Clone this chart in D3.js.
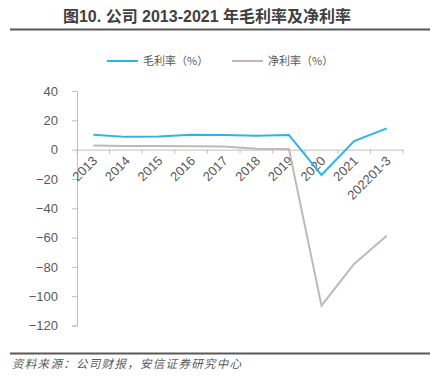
<!DOCTYPE html>
<html>
<head>
<meta charset="utf-8">
<script src="https://cdn.jsdelivr.net/npm/d3@7"></script>
<style>
  body { margin: 0; background: #fff; }
  svg { display: block; }
</style>
</head>
<body>
<div></div>
<script>
// chart data
let categories = ["2013", "2014", "2015", "2016", "2017", "2018", "2019", "2020", "2021", "202201-3"];
let grossMargin = [10.2, 8.7, 9.0, 10.2, 9.9, 9.5, 10.0, -17.3, 5.9, 14.5];
let netMargin = [2.8, 2.5, 2.4, 2.3, 2.2, 0.6, 0.5, -106.5, -78, -58.7];
let yTicks = [40, 20, 0, -20, -40, -60, -80, -100, -120];

let width = 431;
let height = 376;

let paddingLeft = 77;
let plotRight = 403;
let yTop = 91;
let yBottom = 325.5;

let cnFont = "'Noto Sans CJK SC', 'Noto Sans', sans-serif";
let numFont = "'Liberation Sans', Arial, sans-serif";
let textColor = "#595959";
let axisColor = "#bfbfbf";
let blue = "#2db4e6";
let gray = "#bfb8b8";

let svg = d3.select("div").append("svg")
  .attr("width", width)
  .attr("height", height);

// Title
svg.append("text")
  .attr("x", 207)
  .attr("y", 22)
  .attr("text-anchor", "middle")
  .style("font-family", "'Liberation Sans', " + cnFont)
  .style("font-weight", 700)
  .style("font-size", "16px")
  .style("fill", "#404040")
  .text("图10. 公司 2013-2021 年毛利率及净利率");

svg.append("line")
  .attr("x1", 10).attr("x2", 430)
  .attr("y1", 29.5).attr("y2", 29.5)
  .style("stroke", "#595959")
  .style("stroke-width", 1.8);

// Scales
let x = d3.scaleBand()
  .domain(categories)
  .range([paddingLeft, plotRight]);

let y = d3.scaleLinear()
  .domain([-120, 40])
  .range([yBottom, yTop]);

// Y axis
let yAxis = d3.axisLeft(y)
  .tickValues(yTicks)
  .tickFormat(d => d < 0 ? "\u2212" + Math.abs(d) : d)
  .tickSize(5)
  .tickPadding(14);

let gy = svg.append("g")
  .attr("transform", "translate(" + paddingLeft + ",0)")
  .call(yAxis);
gy.select(".domain").style("stroke", axisColor);
gy.selectAll(".tick line").style("stroke", axisColor);
gy.selectAll("text")
  .style("font-family", numFont)
  .style("font-size", "13px")
  .style("fill", textColor);

// X axis at zero
let xAxis = d3.axisBottom(x)
  .tickSize(0)
  .tickFormat(d => d);

let gx = svg.append("g")
  .attr("transform", "translate(0," + y(0) + ")")
  .call(xAxis);
gx.select(".domain").style("stroke", axisColor);
gx.selectAll(".tick text")
  .attr("transform", "translate(-2,5) rotate(-45)")
  .attr("x", 0).attr("y", 0).attr("dy", "0.75em")
  .style("text-anchor", "end")
  .style("font-family", numFont)
  .style("font-size", "13px")
  .style("fill", textColor);

// tick marks at band edges
let edges = categories.map(c => x(c)).concat([plotRight]);
svg.append("g").selectAll("line")
  .data(edges)
  .enter().append("line")
  .attr("x1", d => d).attr("x2", d => d)
  .attr("y1", y(0)).attr("y2", y(0) + 4)
  .style("stroke", axisColor);

// Lines
let line = d3.line()
  .x((d, i) => x(categories[i]) + x.bandwidth() / 2)
  .y(d => y(d));

svg.append("path")
  .datum(netMargin)
  .attr("d", line)
  .style("fill", "none")
  .style("stroke", gray)
  .style("stroke-width", 2);

svg.append("path")
  .datum(grossMargin)
  .attr("d", line)
  .style("fill", "none")
  .style("stroke", blue)
  .style("stroke-width", 2);

// Legend
let legend = [
  { name: "毛利率（%）", color: blue, x: 107 },
  { name: "净利率（%）", color: gray, x: 232 }
];
legend.forEach(function (l) {
  svg.append("line")
    .attr("x1", l.x).attr("x2", l.x + 31)
    .attr("y1", 61).attr("y2", 61)
    .style("stroke", l.color)
    .style("stroke-width", 2);
  svg.append("text")
    .attr("x", l.x + 36)
    .attr("y", 65)
    .style("font-family", cnFont)
    .style("font-size", "11px")
    .style("fill", textColor)
    .text(l.name);
});

// Footer
svg.append("line")
  .attr("x1", 10).attr("x2", 430)
  .attr("y1", 353.5).attr("y2", 353.5)
  .style("stroke", "#595959")
  .style("stroke-width", 1.8);

svg.append("text")
  .attr("x", 12)
  .attr("y", 368)
  .style("font-family", cnFont)
  .style("font-style", "italic")
  .style("font-size", "11.5px")
  .style("letter-spacing", "1.3px")
  .style("fill", "#595959")
  .text("资料来源：公司财报，安信证券研究中心");
</script>
</body>
</html>
